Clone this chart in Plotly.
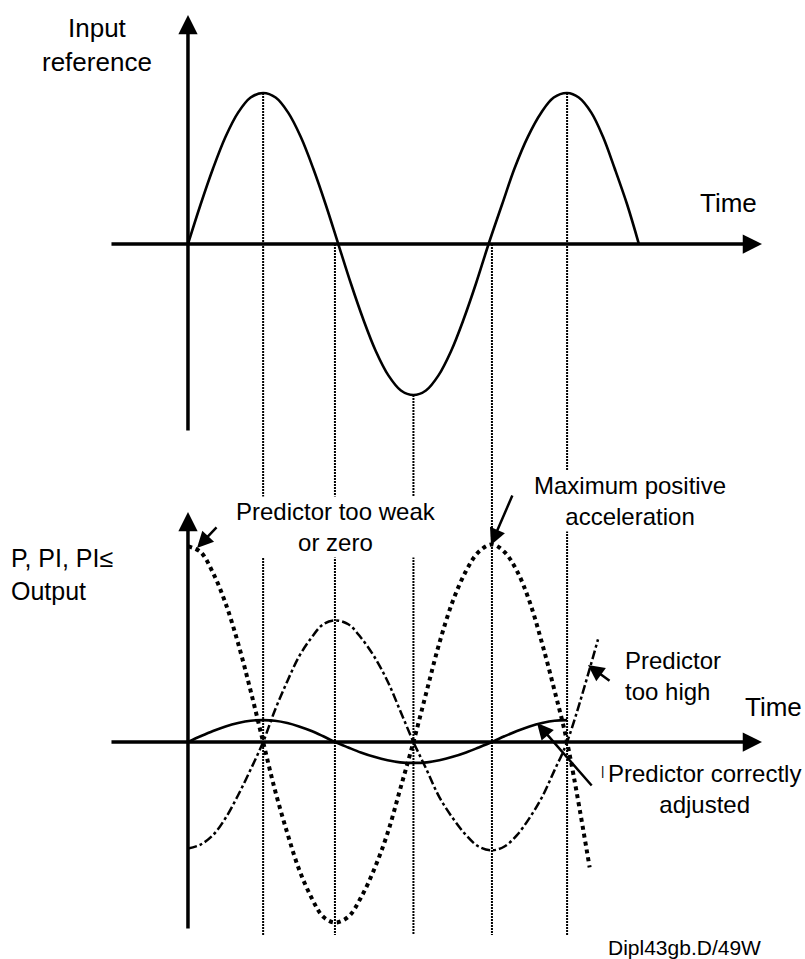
import plotly.graph_objects as go

# phase in degrees (quarter period = 90), values normalised to each panel
input_phase = [0, 15, 30, 45, 60, 75, 90, 105, 120, 135, 150, 165,
               180, 195, 210, 225, 240, 255, 270, 285, 300, 315, 330, 345,
               360, 376, 391, 407, 423, 438, 454, 468, 483, 497, 511, 526, 540]
input_value = [0, 0.26, 0.5, 0.71, 0.87, 0.97, 1, 0.97, 0.87, 0.71, 0.5, 0.26,
               0, -0.26, -0.5, -0.71, -0.87, -0.97, -1, -0.97, -0.87, -0.71, -0.5, -0.26,
               0, 0.26, 0.5, 0.71, 0.87, 0.97, 1, 0.97, 0.87, 0.71, 0.5, 0.26, 0]

out_phase = [0, 15, 30, 45, 60, 75, 90,
             104, 119, 133, 148, 162, 176,
             192, 207, 223, 239, 254, 270,
             286, 301, 317, 333, 348, 364,
             379, 394, 409, 424, 439, 454]
p_output = [0, 0.030, 0.058, 0.082, 0.10, 0.112, 0.115,
            0.112, 0.10, 0.082, 0.058, 0.030, 0,
            -0.029, -0.055, -0.078, -0.096, -0.107, -0.11,
            -0.107, -0.096, -0.078, -0.055, -0.029, 0,
            0.030, 0.058, 0.082, 0.10, 0.112, 0.115]

weak_phase = out_phase + [481]
weak_output = [1.03, 1.0, 0.89, 0.73, 0.52, 0.27, 0,
               -0.25, -0.48, -0.67, -0.82, -0.92, -0.95,
               -0.92, -0.82, -0.67, -0.48, -0.25, 0,
               0.27, 0.52, 0.74, 0.90, 1.0, 1.04,
               1.0, 0.90, 0.74, 0.52, 0.27, 0, -0.66]

high_phase = out_phase + [491]
high_output = [-0.56, -0.54, -0.49, -0.40, -0.28, -0.145, 0,
               0.166, 0.32, 0.45, 0.55, 0.62, 0.64,
               0.62, 0.55, 0.45, 0.32, 0.166, 0,
               -0.148, -0.29, -0.40, -0.49, -0.55, -0.57,
               -0.55, -0.49, -0.40, -0.29, -0.148, 0, 0.54]

marker_phase = [90, 176, 270, 364, 454]
marker_top = [1, 0, -1, 0, 1]

FONT = "Liberation Sans, Arial, sans-serif"

fig = go.Figure()
fig.add_trace(go.Scatter(x=input_phase, y=input_value, mode="lines",
                         line=dict(color="black", width=2.6, shape="spline"),
                         yaxis="y", showlegend=False, hoverinfo="skip"))
fig.add_trace(go.Scatter(x=out_phase, y=p_output, mode="lines",
                         line=dict(color="black", width=2.6, shape="spline"),
                         yaxis="y2", showlegend=False, hoverinfo="skip"))
fig.add_trace(go.Scatter(x=weak_phase, y=weak_output, mode="lines",
                         line=dict(color="black", width=4, dash="dot", shape="spline"),
                         yaxis="y2", showlegend=False, hoverinfo="skip"))
fig.add_trace(go.Scatter(x=high_phase, y=high_output, mode="lines",
                         line=dict(color="black", width=2.5, dash="dashdot", shape="spline"),
                         yaxis="y2", showlegend=False, hoverinfo="skip"))

# thin dotted guides from the input curve down through the output panel
for ph, top in zip(marker_phase, marker_top):
    fig.add_shape(type="line", xref="x", yref="y", x0=ph, x1=ph, y0=top, y1=-4.576,
                  line=dict(color="black", width=2, dash="2px,1px"), layer="below")


def axis_arrow(x0, y0, x1, y1, yref):
    fig.add_annotation(x=x1, y=y1, ax=x0, ay=y0, xref="x", yref=yref, axref="x", ayref=yref,
                       text="", showarrow=True, arrowhead=2, arrowsize=1.1,
                       arrowwidth=3.5, arrowcolor="black")


axis_arrow(0, -1.245, 0, 1.517, "y")
axis_arrow(-93.4, 0, 687.4, 0, "y")
axis_arrow(0, -0.989, 0, 1.21, "y2")
axis_arrow(-93.4, 0, 687.4, 0, "y2")


def label(text, x, y, yref, size=24, xanchor="center", align="center", bg=None):
    fig.add_annotation(x=x, y=y, xref="x", yref=yref, text=text, showarrow=False,
                       xanchor=xanchor, align=align, bgcolor=bg,
                       font=dict(family=FONT, size=size, color="black"))


label("Input<br>reference", -109, 1.318, "y", size=26)
label("Time", 646.7, 0.272, "y", size=26)
label("P, PI, PI≤<br>Output", -214.4, 0.879, "y2", size=25, xanchor="left", align="left")
label("Predictor too weak<br>or zero", 177.2, 1.132, "y2", bg="white")
label("Maximum positive<br>acceleration", 529.3, 1.268, "y2", bg="white")
label("Predictor<br>too high", 521, 0.347, "y2", xanchor="left", align="left")
label("Time", 700.6, 0.184, "y2", size=26)
label("Predictor correctly<br>adjusted", 618, -0.247, "y2")
label("|", 495.8, -0.15, "y2", size=13)
label("Dipl43gb.D/49W", 594, -1.084, "y2", size=21)


def pointer(x0, y0, x1, y1):
    fig.add_annotation(x=x1, y=y1, ax=x0, ay=y0, xref="x", yref="y2", axref="x", ayref="y2",
                       text="", showarrow=True, arrowhead=2, arrowsize=1.3,
                       arrowwidth=2.5, arrowcolor="black")


pointer(35.9, 1.137, 10.8, 1.021)
pointer(389.2, 1.305, 362.9, 1.037)
pointer(506.6, 0.316, 479, 0.405)
pointer(485, -0.237, 418, 0.1)

fig.update_layout(
    width=805, height=959,
    margin=dict(l=0, r=0, t=0, b=0),
    paper_bgcolor="white", plot_bgcolor="white",
    hovermode=False,
    xaxis=dict(range=[-225.1, 738.9], visible=False, domain=[0, 1]),
    yaxis=dict(range=[-4.735, 1.616], visible=False, domain=[0, 1]),
    yaxis2=dict(range=[-1.142, 3.905], visible=False, domain=[0, 1],
                overlaying="y", anchor="x"),
)

fig.write_html("out.html", config={"displayModeBar": False},
               post_script="document.body.style.margin='0';"
                           "document.body.style.overflow='hidden';")
